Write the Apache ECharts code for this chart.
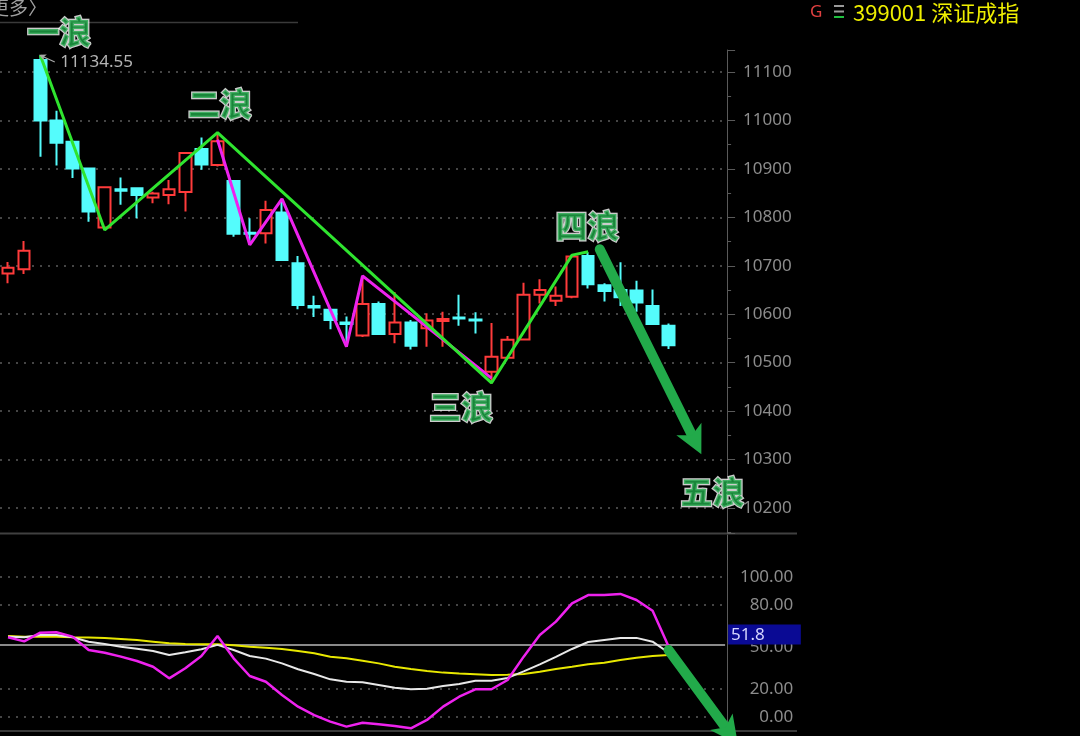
<!DOCTYPE html>
<html><head><meta charset="utf-8">
<script src="https://cdn.jsdelivr.net/npm/echarts@6/dist/echarts.min.js"></script>
<style>html,body{margin:0;padding:0;background:#000;}#c{width:1080px;height:736px;}</style>
</head><body><div id="c"></div>
<script>
// ---- data ----
const categories = Array.from({length: 45}, (_, i) => 'K' + (i + 1)); // 42 candles + 3 empty slots
// [open, close, low, high]
const candles = [
  [10684, 10696, 10664, 10708],
  [10693, 10731, 10683, 10751],
  [11125, 11000, 10925, 11134.55],
  [11000, 10954, 10907, 11020],
  [10956, 10901, 10881, 10958],
  [10901, 10812, 10791, 10903],
  [10779, 10862, 10774, 10864],
  [10858, 10855, 10826, 10882],
  [10860, 10846, 10798, 10862],
  [10841, 10849, 10829, 10853],
  [10846, 10858, 10827, 10877],
  [10852, 10933, 10812, 10935],
  [10941, 10909, 10898, 10965],
  [10908, 10957, 10905, 10975],
  [10875, 10766, 10760, 10877],
  [10768, 10766, 10743, 10798],
  [10767, 10815, 10746, 10834],
  [10810, 10712, 10710, 10838],
  [10705, 10619, 10610, 10720],
  [10617, 10614, 10594, 10638],
  [10609, 10588, 10569, 10610],
  [10583, 10580, 10535, 10595],
  [10556, 10621, 10553, 10679],
  [10621, 10559, 10557, 10626],
  [10559, 10583, 10540, 10646],
  [10583, 10535, 10527, 10588],
  [10571, 10587, 10533, 10602],
  [10586, 10590, 10533, 10605],
  [10593, 10591, 10576, 10640],
  [10589, 10587, 10560, 10604],
  [10481, 10512, 10457, 10582],
  [10510, 10547, 10508, 10555],
  [10548, 10640, 10546, 10665],
  [10640, 10650, 10622, 10672],
  [10628, 10638, 10617, 10657],
  [10636, 10719, 10633, 10722],
  [10720, 10662, 10653, 10728],
  [10660, 10648, 10626, 10664],
  [10650, 10635, 10617, 10707],
  [10649, 10624, 10605, 10669],
  [10617, 10580, 10578, 10651],
  [10576, 10536, 10528, 10581]
];
const priceTicks = [10200, 10300, 10400, 10500, 10600, 10700, 10800, 10900, 11000, 11100];
const indTicks = [0, 20, 50, 80, 100];
const indGridLines = [0, 20, 80, 100];
const currentLevel = 51.8;

// indicator lines
const indMagenta = [57, 54, 60.2, 60.5, 57.4, 47.9, 45.9, 43.1, 40, 35.9, 27.6, 34.8, 43.6, 57.9, 41.9, 29.3, 25.2, 15.7, 7.4, 1.4, -3.3, -6.9, -4.1, -5.2, -6.4, -8.1, -2.1, 7.4, 14.5, 19.8, 19.8, 26.4, 43.1, 58.6, 68.1, 81.2, 87.1, 87.1, 87.9, 83.6, 75.9, 50.2];
const indWhite = [57.4, 57, 58.5, 58.6, 57, 53.8, 52.1, 50.2, 48.8, 47.1, 44.3, 46.2, 48.4, 51.5, 47.9, 43.6, 41.7, 38.3, 34.1, 30.7, 26.9, 25.2, 24.8, 22.9, 20.9, 19.8, 20.2, 22.1, 23.6, 25.9, 25.9, 27.9, 32.6, 37.6, 42.9, 48.6, 53.6, 55, 56.4, 56.5, 53.8, 45.9];
const indYellow = [57.9, 57.4, 57.4, 57.4, 57, 56.7, 56.4, 55.7, 55, 53.8, 52.6, 52.1, 51.9, 51.9, 51.2, 50.2, 49.5, 48.6, 47.1, 45.5, 43.1, 41.9, 40.2, 38.3, 35.9, 34.3, 32.9, 31.7, 31, 30.5, 30, 30.2, 30.7, 32.4, 34.3, 35.9, 37.6, 38.8, 40.7, 42.4, 43.6, 44.3];

// wave annotations: [candle index, price]
const greenWave = [[2, 11134.55], [6, 10774], [13, 10975], [30, 10458], [35, 10722], [36, 10729]];
const magentaWave = [[13, 10960], [15, 10743], [17, 10838], [21, 10533], [22, 10679], [30, 10468]];
const mainArrow = [[36.72, 10734], [42.64, 10337]];
const indArrow = [[40.99, 47.9], [44.78, -11.4]];
const waveLabels = [['一浪', 3.18, 11183], ['二浪', 13.16, 11034], ['三浪', 28.12, 10408], ['四浪', 35.96, 10782], ['五浪', 43.72, 10233]];

// ---- chart ----
let maxIdx = 0;
candles.forEach((c, i) => { if (c[3] > candles[maxIdx][3]) maxIdx = i; });
const maxVal = candles[maxIdx][3];
const arrowPath = 'path://M14,0 L28,28 L14,21 L0,28 Z';
const gridLeft = -3, gridWidth = 728.1;
const lblFont = 'Noto Sans';
const dotStyle = {color: '#5c5c5c', type: [2, 6], width: 1.6};

const chart = echarts.init(document.getElementById('c'));
chart.setOption({
  animation: false,
  backgroundColor: '#000',
  grid: [
    {left: gridLeft, top: 50, width: gridWidth, height: 483},
    {left: gridLeft, top: 535, width: gridWidth, height: 196}
  ],
  xAxis: [
    {type: 'category', gridIndex: 0, data: categories, show: false},
    {type: 'value', gridIndex: 0, min: -0.5, max: 44.5, show: false},
    {type: 'category', gridIndex: 1, data: categories, show: false},
    {type: 'value', gridIndex: 1, min: -0.5, max: 44.5, show: false}
  ],
  yAxis: [
    {
      type: 'value', gridIndex: 0, position: 'right', offset: 2,
      min: 10148.3, max: 11145.4, splitNumber: 10, minInterval: 100, maxInterval: 100,
      axisLine: {show: true, onZero: false, lineStyle: {color: '#5a5a5a', width: 1}},
      axisTick: {show: true, length: 8, lineStyle: {color: '#5a5a5a'}},
      minorTick: {show: true, splitNumber: 2, length: 4, lineStyle: {color: '#5a5a5a'}},
      axisLabel: {showMinLabel: false, showMaxLabel: false, color: '#8c8c8c', fontSize: 17, fontFamily: lblFont, margin: 16,
        formatter: v => priceTicks.indexOf(v) >= 0 ? String(v) : ''},
      splitLine: {show: false}
    },
    {
      type: 'value', gridIndex: 1, position: 'right', offset: 2,
      min: -10, max: 130, interval: 10,
      axisLine: {show: true, onZero: false, lineStyle: {color: '#5a5a5a', width: 1}},
      axisTick: {show: false},
      axisLabel: {color: '#8c8c8c', fontSize: 17, fontFamily: lblFont, align: 'right', margin: 66,
        formatter: v => indTicks.indexOf(v) >= 0 ? v.toFixed(2) : ''},
      splitLine: {show: false}
    }
  ],
  series: [
    {
      type: 'candlestick', xAxisIndex: 0, yAxisIndex: 0, data: candles.map(c => [c[0], c[1], c[2], c[3]]),
      barWidth: 12, z: 2,
      itemStyle: {color: '#000', color0: '#54fcfc', borderColor: '#ff3b3b', borderColor0: '#54fcfc', borderWidth: 2},
      markPoint: {
        z: 6, symbol: 'circle', symbolSize: 0.1, itemStyle: {color: 'transparent'},
        data: [{type: 'max', valueDim: 'highest'}],
        label: {show: true, position: 'right', distance: 20, offset: [0, 7], color: '#b4b4b4', fontSize: 17, fontFamily: lblFont,
          formatter: p => Number(p.value).toFixed(2)}
      }
    },
    {
      type: 'lines', coordinateSystem: 'cartesian2d', xAxisIndex: 1, yAxisIndex: 0, z: 6,
      symbol: ['none', arrowPath], symbolSize: [0, 7],
      lineStyle: {color: '#a8a8a8', width: 1.2, opacity: 1},
      data: [{coords: [[maxIdx + 0.9, maxVal - 14], [maxIdx + 0.12, maxVal - 2]]}]
    },
    {
      type: 'line', xAxisIndex: 1, yAxisIndex: 0, data: magentaWave, symbol: 'none', z: 4,
      lineStyle: {color: '#ee22ee', width: 3},
      markLine: {
        z: 1, silent: true, symbol: ['none', 'none'], label: {show: false},
        lineStyle: dotStyle,
        data: priceTicks.map(v => ({yAxis: v}))
      }
    },
    {
      type: 'line', xAxisIndex: 1, yAxisIndex: 0, data: greenWave, symbol: 'none', z: 5,
      lineStyle: {color: '#2fe42f', width: 3}
    },
    {
      type: 'lines', coordinateSystem: 'cartesian2d', xAxisIndex: 1, yAxisIndex: 0, z: 7, clip: false,
      symbol: ['none', arrowPath], symbolSize: [0, 28],
      lineStyle: {color: '#22aa4a', width: 10, cap: 'round', opacity: 1},
      data: [{coords: mainArrow}]
    },
    {
      type: 'scatter', xAxisIndex: 1, yAxisIndex: 0, z: 10, clip: false, symbolSize: 0, silent: true,
      data: waveLabels.map(w => ({name: w[0], value: [w[1], w[2]]})),
      label: {show: true, position: 'inside', formatter: '{b}', color: '#1fa848', fontSize: 32, fontWeight: 900,
        fontFamily: 'Noto Sans CJK SC', textBorderColor: '#ffffff', textBorderWidth: 2.5}
    },
    {
      type: 'line', xAxisIndex: 2, yAxisIndex: 1, data: indYellow, symbol: 'none', z: 2,
      lineStyle: {color: '#e8e800', width: 2},
      markLine: {
        z: 1, silent: true, symbol: ['none', 'none'], label: {show: false},
        lineStyle: dotStyle,
        data: indGridLines.map(v => ({yAxis: v}))
      }
    },
    {
      type: 'line', xAxisIndex: 2, yAxisIndex: 1, data: indWhite, symbol: 'none', z: 3,
      lineStyle: {color: '#e8e8e8', width: 2},
      markLine: {
        z: 1, silent: true, symbol: ['none', 'none'],
        lineStyle: {color: '#8a8a8a', type: 'solid', width: 2},
        label: {show: true, position: 'end', distance: 3, formatter: String(currentLevel),
          color: '#d6d6ff', fontSize: 17, fontFamily: lblFont, backgroundColor: '#0a0a94',
          padding: [2, 36, 1, 3], align: 'left', verticalAlign: 'bottom'},
        data: [{yAxis: currentLevel}]
      }
    },
    {
      type: 'line', xAxisIndex: 2, yAxisIndex: 1, data: indMagenta, symbol: 'none', z: 4,
      lineStyle: {color: '#ee22ee', width: 2.5}
    },
    {
      type: 'lines', coordinateSystem: 'cartesian2d', xAxisIndex: 3, yAxisIndex: 1, z: 7, clip: false,
      symbol: ['none', arrowPath], symbolSize: [0, 28],
      lineStyle: {color: '#22aa4a', width: 10, cap: 'round', opacity: 1},
      data: [{coords: indArrow}]
    }
  ],
  graphic: [
    {type: 'line', shape: {x1: 0, y1: 22.5, x2: 298, y2: 22.5}, style: {stroke: '#3a3a3a', lineWidth: 1.5}},
    {type: 'line', shape: {x1: 0, y1: 533.5, x2: 797, y2: 533.5}, style: {stroke: '#404040', lineWidth: 2}},
    {type: 'line', shape: {x1: 0, y1: 731, x2: 797, y2: 731}, style: {stroke: '#3a3a3a', lineWidth: 2}},
    {type: 'text', x: -10, y: 8, style: {text: '更多〉', fill: '#a0a0a0', font: '19px "Noto Sans CJK SC"', verticalAlign: 'middle'}},
    {type: 'text', x: 810, y: 12, style: {text: 'G', fill: '#e04040', font: '17px "Noto Sans"', verticalAlign: 'middle'}},
    {type: 'rect', shape: {x: 834, y: 5, width: 10, height: 2}, style: {fill: '#9a9a9a'}},
    {type: 'rect', shape: {x: 834, y: 10.5, width: 10, height: 2}, style: {fill: '#9a9a9a'}},
    {type: 'rect', shape: {x: 834, y: 16, width: 10, height: 2}, style: {fill: '#20c040'}},
    {type: 'text', x: 853, y: 12.5, style: {text: '399001 深证成指', fill: '#eeee00', font: '22px "Noto Sans CJK SC"', verticalAlign: 'middle'}}
  ]
});
</script>
</body></html>
